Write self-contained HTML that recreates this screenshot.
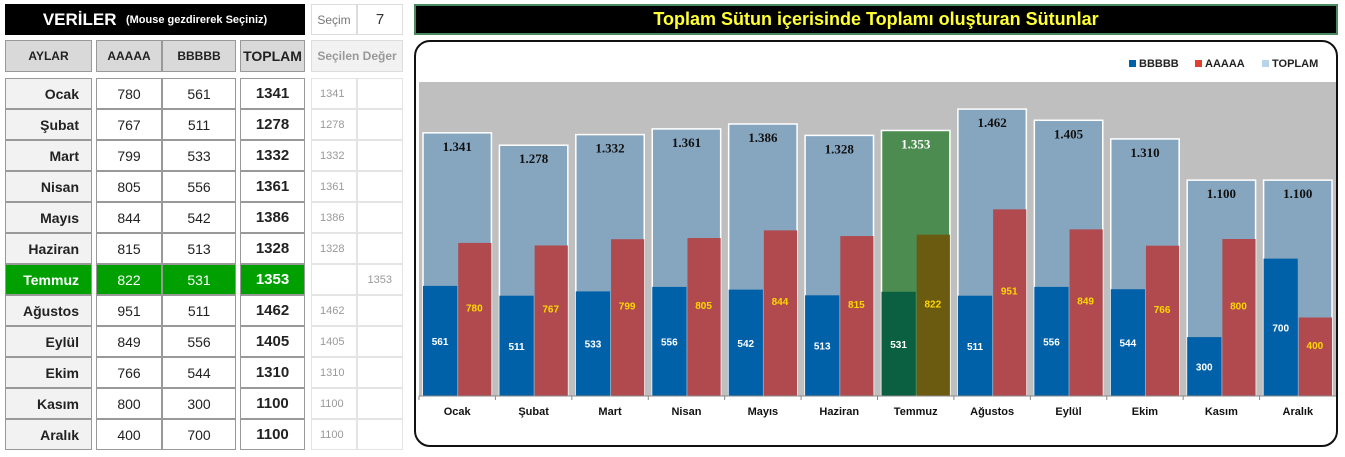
<!DOCTYPE html>
<html><head><meta charset="utf-8">
<style>
body{margin:0;width:1345px;height:457px;background:#fff;font-family:"Liberation Sans",sans-serif;position:relative;overflow:hidden}
.a{position:absolute;box-sizing:border-box;display:flex;align-items:center;justify-content:center}
</style></head><body>
<div class="a" style="left:5px;top:4px;width:300px;height:31px;background:#000;color:#fff;font-weight:bold;font-size:17px">VERİLER&nbsp;&nbsp;<span style="font-size:11px">(Mouse gezdirerek Seçiniz)</span></div>
<div class="a" style="left:311px;top:4px;width:46px;height:31px;border:1px solid #ddd;color:#777;font-size:12px">Seçim</div>
<div class="a" style="left:357px;top:4px;width:46px;height:31px;border:1px solid #ddd;color:#333;font-size:15px">7</div>
<div class="a" style="left:414px;top:4px;width:924px;height:31px;background:#000;border:2px solid #4a8a60;color:#ffff33;font-weight:bold;font-size:18px">Toplam Sütun içerisinde Toplamı oluşturan Sütunlar</div>
<div class="a" style="left:414px;top:40px;width:924px;height:407px;border:2px solid #111;border-radius:16px"></div>
<div id="tbl"></div>
<svg id="ch" width="1345" height="457" style="position:absolute;left:0;top:0"></svg>
<script>
const months=["Ocak","Şubat","Mart","Nisan","Mayıs","Haziran","Temmuz","Ağustos","Eylül","Ekim","Kasım","Aralık"];
const aaaaa=[780,767,799,805,844,815,822,951,849,766,800,400];
const bbbbb=[561,511,533,556,542,513,531,511,556,544,300,700];
const toplam=[1341,1278,1332,1361,1386,1328,1353,1462,1405,1310,1100,1100];
const totalLabels=["1.341","1.278","1.332","1.361","1.386","1.328","1.353","1.462","1.405","1.310","1.100","1.100"];
const selected=6;
const tbl=document.getElementById('tbl');
function cell(x,y,w,h,txt,st,name,inter){const d=document.createElement('div');d.className='a';d.style.cssText=`left:${x}px;top:${y}px;width:${w}px;height:${h}px;`+st;d.textContent=txt;


tbl.appendChild(d);return d;}
const hs='background:#d9d9d9;border:1px solid #999;font-weight:bold;font-size:12px;color:#222;';
cell(5,40,87,32,'AYLAR',hs,'header-aylar');
cell(96,40,66,32,'AAAAA',hs,'header-aaaaa');
cell(162,40,74,32,'BBBBB',hs,'header-bbbbb');
cell(240,40,65,32,'TOPLAM',hs+'font-size:14px','header-toplam');
cell(311,40,92,32,'Seçilen Değer','background:#f2f2f2;border:1px solid #ddd;color:#999;font-weight:bold;font-size:12px','header-secilen');
for(let i=0;i<12;i++){const y=78+i*31,sel=i===selected;
const bg=sel?'background:#00a000;color:#fff;':'background:#fff;color:#222;';
const b='border:1px solid #999;';
cell(5,y,87,31,months[i],(sel?'background:#00a000;color:#fff;':'background:#f2f2f2;color:#222;')+b+'justify-content:flex-end;padding-right:12px;font-weight:bold;font-size:14px','month-'+i,true);
cell(96,y,66,31,aaaaa[i],bg+b+'font-size:14px','aaaaa-'+i,true);
cell(162,y,74,31,bbbbb[i],bg+b+'font-size:14px','bbbbb-'+i,true);
cell(240,y,65,31,toplam[i],bg+b+'font-weight:bold;font-size:15px','toplam-'+i,true);
cell(311,y,46,31,sel?'':toplam[i],'border:1px solid #e4e4e4;color:#999;font-size:11px;justify-content:flex-start;padding-left:8px','secilen-a-'+i,false);
cell(357,y,46,31,sel?toplam[i]:'','border:1px solid #e4e4e4;color:#999;font-size:11px;justify-content:flex-end;padding-right:10px','secilen-b-'+i,false);}
// chart
const svg=document.getElementById('ch');const NS='http://www.w3.org/2000/svg';
const PL=419,PR=1336,PT=82,PB=396,YMAX=1600;
const cw=(PR-PL)/months.length;
const yS=v=>PB-v/YMAX*(PB-PT);
function el(t,at,name,txt){const e=document.createElementNS(NS,t);for(const k in at)e.setAttribute(k,at[k]);if(txt!==undefined)e.textContent=txt;


svg.appendChild(e);return e;}
el('rect',{x:PL,y:PT,width:PR-PL,height:PB-PT,fill:'#bfbfbf'},'plot-area');
months.forEach((m,i)=>{const x0=PL+i*cw+4,w=cw-8,sel=i===selected;
el('rect',{x:x0,y:yS(toplam[i]),width:w,height:PB-yS(toplam[i]),fill:sel?'#4c8c50':'#86a6c0',stroke:'#fff','stroke-width':1.5},'bar-toplam-'+i);
const hw=w/2;
el('rect',{x:x0,y:yS(bbbbb[i]),width:hw,height:PB-yS(bbbbb[i]),fill:sel?'#0a6040':'#0060a8'},'bar-bbbbb-'+i);
el('rect',{x:x0+hw+1,y:yS(aaaaa[i]),width:hw-1,height:PB-yS(aaaaa[i]),fill:sel?'#6b5b10':'#b04a4f'},'bar-aaaaa-'+i);
el('text',{x:x0+w/2,y:yS(toplam[i])+18,'text-anchor':'middle','font-size':13,'font-weight':'bold','font-family':'Liberation Serif,serif',fill:sel?'#fff':'#111'},'label-toplam-'+i,totalLabels[i]);
el('text',{x:x0+hw/2,y:(yS(bbbbb[i])+PB)/2+4,'text-anchor':'middle','font-size':10,'font-weight':'bold',fill:'#fff'},'label-bbbbb-'+i,bbbbb[i]);
el('text',{x:x0+hw+hw/2,y:(yS(aaaaa[i])+PB)/2-8,'text-anchor':'middle','font-size':10,'font-weight':'bold',fill:'#ffd700'},'label-aaaaa-'+i,aaaaa[i]);
el('text',{x:PL+i*cw+cw/2,y:415,'text-anchor':'middle','font-size':11,'font-weight':'bold',fill:'#111'},'x-label-'+i,m);
el('line',{x1:PL+i*cw,x2:PL+i*cw,y1:PB,y2:PB+4,stroke:'#888'},'x-tick-'+i);
});
el('line',{x1:PL,x2:PR,y1:PB,y2:PB,stroke:'#888'},'x-axis');
const leg=[["BBBBB","#0060a8",1129],["AAAAA","#e04030",1195],["TOPLAM","#b8d4ea",1262]];
leg.forEach(([t,c,x])=>{el('rect',{x:x,y:60,width:7,height:7,fill:c},'legend-swatch-'+t);
el('text',{x:x+10,y:67,'font-size':11,'font-weight':'bold',fill:'#222'},'legend-entry-'+t,t);});
</script>
</body></html>
